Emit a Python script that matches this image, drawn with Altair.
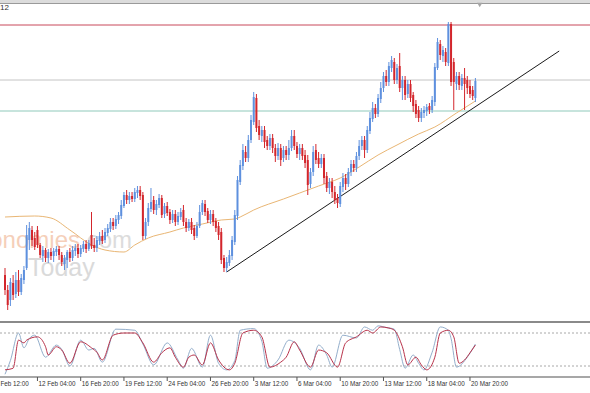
import altair as alt
import pandas as pd

# ---------------- data (arbitrary price units) ----------------
bars = list(range(4, 179))

open_ = [47, 32, 22, 39, 28, 42, 30, 42, 54, 82,
         92, 84, 92, 77, 66, 72, 64, 70, 66, 70,
         73, 67, 58, 62, 70, 64, 71, 74, 68, 73,
         78, 73, 87, 77, 74, 81, 86, 82, 89, 93,
         100, 96, 102, 106, 116, 127, 122, 126, 123, 129,
         132, 127, 86, 100, 113, 122, 112, 117, 124, 108,
         116, 110, 102, 108, 100, 105, 112, 100, 94, 100,
         94, 86, 96, 110, 118, 111, 102, 108, 101, 96,
         90, 64, 54, 59, 66, 80, 106, 140, 156, 170,
         164, 182, 200, 224, 196, 186, 192, 182, 176, 184,
         174, 166, 174, 164, 172, 167, 174, 186, 176, 168,
         174, 167, 162, 138, 150, 172, 164, 158, 164, 146,
         134, 140, 130, 124, 118, 135, 144, 138, 150, 158,
         154, 166, 176, 182, 172, 191, 203, 214, 208, 223,
         234, 246, 240, 254, 260, 242, 256, 234, 242, 228,
         238, 227, 218, 212, 204, 209, 211, 216, 212, 220,
         254, 278, 266, 270, 259, 298, 260, 238, 246, 236,
         244, 242, 236, 232, 224]

high = [54, 37, 44, 47, 50, 52, 48, 56, 97, 100,
        96, 90, 96, 79, 76, 74, 73, 74, 74, 76,
        76, 70, 67, 72, 74, 76, 78, 78, 77, 81,
        82, 82, 110, 84, 86, 90, 92, 94, 98, 104,
        104, 107, 110, 122, 130, 132, 130, 130, 134, 136,
        136, 130, 104, 119, 134, 126, 122, 128, 127, 119,
        120, 113, 112, 112, 110, 114, 117, 104, 103, 104,
        97, 100, 117, 122, 122, 114, 112, 112, 104, 100,
        94, 67, 65, 72, 86, 112, 146, 162, 178, 176,
        187, 207, 230, 228, 202, 196, 196, 186, 188, 188,
        178, 179, 178, 176, 176, 182, 192, 192, 180, 178,
        178, 172, 167, 154, 176, 178, 170, 168, 168, 150,
        144, 144, 136, 128, 140, 149, 148, 154, 162, 162,
        170, 182, 186, 186, 196, 210, 220, 218, 228, 240,
        250, 252, 260, 266, 264, 258, 269, 246, 246, 242,
        242, 230, 222, 216, 214, 216, 218, 219, 226, 259,
        284, 282, 276, 274, 300, 300, 264, 250, 250, 248,
        254, 246, 242, 236, 244]

low = [27, 12, 16, 22, 24, 26, 27, 38, 52, 72,
       76, 72, 74, 64, 60, 60, 59, 62, 60, 66,
       62, 56, 52, 54, 60, 61, 66, 64, 65, 70,
       69, 71, 73, 70, 70, 77, 78, 79, 86, 90,
       92, 93, 98, 103, 114, 118, 118, 120, 120, 124,
       122, 82, 83, 96, 110, 108, 107, 114, 104, 104,
       106, 98, 99, 96, 97, 102, 96, 90, 91, 88,
       82, 84, 94, 107, 106, 99, 98, 96, 90, 82,
       58, 50, 50, 56, 62, 77, 102, 137, 152, 160,
       160, 179, 197, 190, 182, 180, 174, 172, 172, 169,
       160, 162, 156, 160, 162, 162, 171, 172, 164, 162,
       162, 154, 127, 134, 146, 158, 154, 154, 138, 130,
       128, 124, 118, 114, 115, 130, 132, 135, 146, 150,
       150, 162, 172, 164, 169, 188, 200, 204, 205, 219,
       230, 236, 236, 250, 238, 238, 230, 222, 222, 224,
       220, 210, 204, 200, 200, 204, 206, 208, 209, 216,
       252, 262, 260, 256, 256, 236, 212, 232, 232, 232,
       212, 228, 224, 222, 220]

close = [32, 17, 40, 27, 42, 30, 44, 52, 87, 94,
         82, 75, 77, 67, 72, 64, 70, 66, 71, 73,
         67, 60, 64, 70, 64, 72, 74, 68, 74, 78,
         73, 79, 76, 74, 82, 86, 81, 90, 94, 100,
         96, 103, 107, 117, 127, 122, 126, 123, 130, 132,
         126, 86, 100, 114, 120, 112, 118, 124, 107, 116,
         109, 102, 108, 100, 106, 110, 100, 94, 100, 92,
         86, 96, 110, 119, 110, 102, 108, 100, 94, 87,
         62, 54, 60, 67, 82, 107, 142, 157, 172, 164,
         182, 202, 225, 194, 187, 192, 180, 176, 184, 174,
         166, 174, 162, 172, 167, 174, 186, 176, 168, 174,
         166, 159, 137, 150, 170, 162, 158, 164, 144, 134,
         140, 130, 122, 119, 136, 144, 138, 150, 158, 154,
         166, 176, 182, 172, 192, 204, 214, 208, 224, 234,
         246, 240, 256, 262, 242, 254, 234, 242, 227, 238,
         224, 216, 208, 204, 210, 212, 215, 212, 222, 255,
         280, 267, 272, 260, 298, 240, 240, 246, 237, 244,
         238, 234, 228, 226, 241]

# moving average (sampled)
ma_bars = [4, 15, 21, 28, 36, 41, 48, 52, 57, 65, 70, 77, 84, 89, 91, 96,
           107, 113, 120, 128, 135, 142, 149, 157, 163, 171, 178]
ma_vals = [105, 106, 104, 92, 77, 72, 70, 77, 84, 90, 94, 98, 102, 103, 105, 112,
           123, 129, 136, 144, 155, 167, 177, 188, 195, 209, 221]

# horizontal levels
resistance_level = 297
middle_level = 242
support_level = 211

# trend line
trend_bars = [86, 209]
trend_vals = [50, 271]

# stochastic oscillator
d_bars = [4, 7, 9, 11, 12, 16, 19, 20, 23, 25, 28, 32, 36, 38, 40, 44, 48, 52, 55, 59,
          62, 65, 67, 70, 72, 74, 77, 80, 83, 87, 89, 92, 96, 99, 102, 106, 108, 111, 113, 117,
          120, 123, 127, 130, 134, 138, 140, 143, 146, 148, 151, 153, 156, 158, 160, 163, 165,
          168, 170, 172, 174, 176, 178]
d_vals = [13, 16, 67, 62, 67, 73, 55, 40, 55, 49, 25, 64, 53, 45, 31, 76, 80, 80, 62, 27,
          44, 53, 36, 18, 36, 40, 22, 62, 31, 13, 25, 80, 85, 73, 18, 27, 36, 64, 49, 18,
          49, 44, 18, 62, 73, 85, 80, 91, 89, 85, 55, 22, 36, 22, 13, 36, 80,
          85, 73, 25, 31, 44, 58]
k_bars = [4, 6, 9, 11, 13, 15, 19, 23, 25, 28, 32, 35, 37, 40, 45, 52, 55, 59, 64, 68,
          70, 73, 77, 80, 83, 86, 89, 91, 96, 99, 101, 105, 109, 113, 117, 120, 123, 125, 129, 134,
          137, 140, 142, 145, 148, 150, 152, 155, 157, 159, 162, 165, 168, 169, 171, 175, 178]
k_vals = [5, 30, 80, 53, 70, 76, 36, 58, 50, 20, 67, 49, 52, 27, 87, 85, 60, 22, 62, 31,
          16, 52, 18, 76, 25, 13, 30, 85, 88, 65, 16, 31, 67, 52, 13, 58, 40, 18, 76, 71,
          91, 85, 93, 90, 87, 50, 16, 40, 25, 13, 45, 91, 85, 70, 18, 36, 60]
stoch_levels = [80, 20]

# time axis labels
tick_bars = [0, 16, 32, 48, 64, 80, 96, 112, 128, 144, 160, 176]
tick_labels = ["9 Feb 12:00", "12 Feb 04:00", "16 Feb 20:00", "19 Feb 12:00", "24 Feb 04:00",
               "26 Feb 20:00", "3 Mar 12:00", "6 Mar 04:00", "10 Mar 20:00", "13 Mar 12:00",
               "18 Mar 04:00", "20 Mar 20:00"]

# ---------------- frames ----------------
candles = pd.DataFrame({"bar": bars, "open": open_, "high": high, "low": low, "close": close})
up = candles[candles["close"] >= candles["open"]]
down = candles[candles["close"] < candles["open"]]
ma = pd.DataFrame({"bar": ma_bars, "v": ma_vals})
trend = pd.DataFrame({"bar": trend_bars, "v": trend_vals})
kdf = pd.DataFrame({"bar": k_bars, "v": k_vals})
ddf = pd.DataFrame({"bar": d_bars, "v": d_vals})
sl = pd.DataFrame({"v": stoch_levels})
ticks = pd.DataFrame({"bar": tick_bars, "label": tick_labels})

BLUE = "#5E90DE"
RED = "#D3262C"

xs = alt.Scale(domain=[4, 218.545], nice=False, zero=False)
ps = alt.Scale(domain=[0, 319], range=[319, 0], nice=False, zero=False)
ss = alt.Scale(domain=[0, 100], range=[374, 319], nice=False, zero=False)
X = alt.X("bar:Q", scale=xs, axis=None)

FONT = "Liberation Sans"

wm1 = alt.Chart(pd.DataFrame({"t": ["Economies"]})).mark_text(
    align="right", baseline="alphabetic", fontSize=24, font=FONT, color="#F2BFA3", opacity=0.75
).encode(x=alt.value(80), y=alt.value(245), text="t:N")
wm2 = alt.Chart(pd.DataFrame({"t": [".com"]})).mark_text(
    align="left", baseline="alphabetic", fontSize=24, font=FONT, color="#D4D4D4", opacity=0.8
).encode(x=alt.value(80), y=alt.value(245), text="t:N")
wm3 = alt.Chart(pd.DataFrame({"t": ["Today"]})).mark_text(
    align="left", baseline="alphabetic", fontSize=25, font=FONT, color="#D2D2D2", opacity=0.8
).encode(x=alt.value(28), y=alt.value(273), text="t:N")


def level(v, color):
    return alt.Chart(pd.DataFrame({"v": [v]})).mark_rule(strokeWidth=1, color=color).encode(
        y=alt.Y("v:Q", scale=ps, axis=None))


lvl_r = level(resistance_level, "#C8495A")
lvl_m = level(middle_level, "#C4C4C4")
lvl_s = level(support_level, "#8FC9BA")

ma_line = alt.Chart(ma).mark_line(color="#E9B674", strokeWidth=1, interpolate="monotone").encode(
    x=X, y=alt.Y("v:Q", scale=ps, axis=None))
trend_line = alt.Chart(trend).mark_line(color="#1A1A1A", strokeWidth=1).encode(
    x=X, y=alt.Y("v:Q", scale=ps, axis=None))


def candle_layers(df, color):
    wick = alt.Chart(df).mark_rule(strokeWidth=1, color=color).encode(
        x=X, y=alt.Y("low:Q", scale=ps, axis=None), y2="high:Q")
    body = alt.Chart(df).mark_bar(size=2, color=color).encode(
        x=X, y=alt.Y("open:Q", scale=ps, axis=None), y2="close:Q")
    return [wick, body]


price = alt.layer(wm1, wm2, wm3, lvl_r, lvl_m, lvl_s, ma_line, trend_line,
                  *candle_layers(up, BLUE), *candle_layers(down, RED))

s_lvl = alt.Chart(sl).mark_rule(color="#A8A8A8", strokeDash=[2, 2], strokeWidth=1).encode(
    y=alt.Y("v:Q", scale=ss, axis=None))
k_line = alt.Chart(kdf).mark_line(color="#93AECB", strokeWidth=1, interpolate="monotone").encode(
    x=X, y=alt.Y("v:Q", scale=ss, axis=None))
d_line = alt.Chart(ddf).mark_line(color="#B8324A", strokeWidth=1, interpolate="monotone").encode(
    x=X, y=alt.Y("v:Q", scale=ss, axis=None))
stoch = alt.layer(s_lvl, k_line, d_line)

# frame, separators, time axis
one = pd.DataFrame({"a": [0]})
frame_top = alt.Chart(one).mark_rule(color="#DCDCDC", strokeWidth=3).encode(y=alt.value(-1.5))
frame_top2 = alt.Chart(one).mark_rule(color="#9A9A9A", strokeWidth=1).encode(y=alt.value(0.5))
sep = alt.Chart(one).mark_rule(color="#8A8A8A", strokeWidth=2).encode(y=alt.value(319))
bottom = alt.Chart(one).mark_rule(color="#8A8A8A", strokeWidth=1.5).encode(y=alt.value(374))
tick_marks = alt.Chart(ticks).mark_rule(color="#555555", strokeWidth=1).encode(
    x=X, y=alt.value(374), y2=alt.value(378))
tick_text = alt.Chart(ticks).mark_text(
    align="left", baseline="middle", fontSize=6.3, font=FONT, color="#333333", dx=1
).encode(x=X, y=alt.value(380.5), text="label:N")
corner = alt.Chart(pd.DataFrame({"t": ["12"]})).mark_text(
    align="left", baseline="middle", fontSize=8, font=FONT, color="#333333"
).encode(x=alt.value(0), y=alt.value(5), text="t:N")
shift_mark = alt.Chart(pd.DataFrame({"bar": [179.6]})).mark_point(
    shape="triangle-down", filled=True, size=28, color="#A6A6A6", opacity=1
).encode(x=X, y=alt.value(2))
deco = alt.layer(frame_top, frame_top2, sep, bottom, tick_marks, tick_text, corner, shift_mark)

chart = alt.layer(price, stoch, deco).resolve_scale(y="independent").properties(
    width=590, height=374,
    padding={"left": 0, "top": 3, "right": 0, "bottom": 16},
    autosize=alt.AutoSizeParams(type="none"),
    background="white",
).configure_view(stroke=None)

chart.save("out.html", embed_options={"renderer": "svg", "actions": False})
